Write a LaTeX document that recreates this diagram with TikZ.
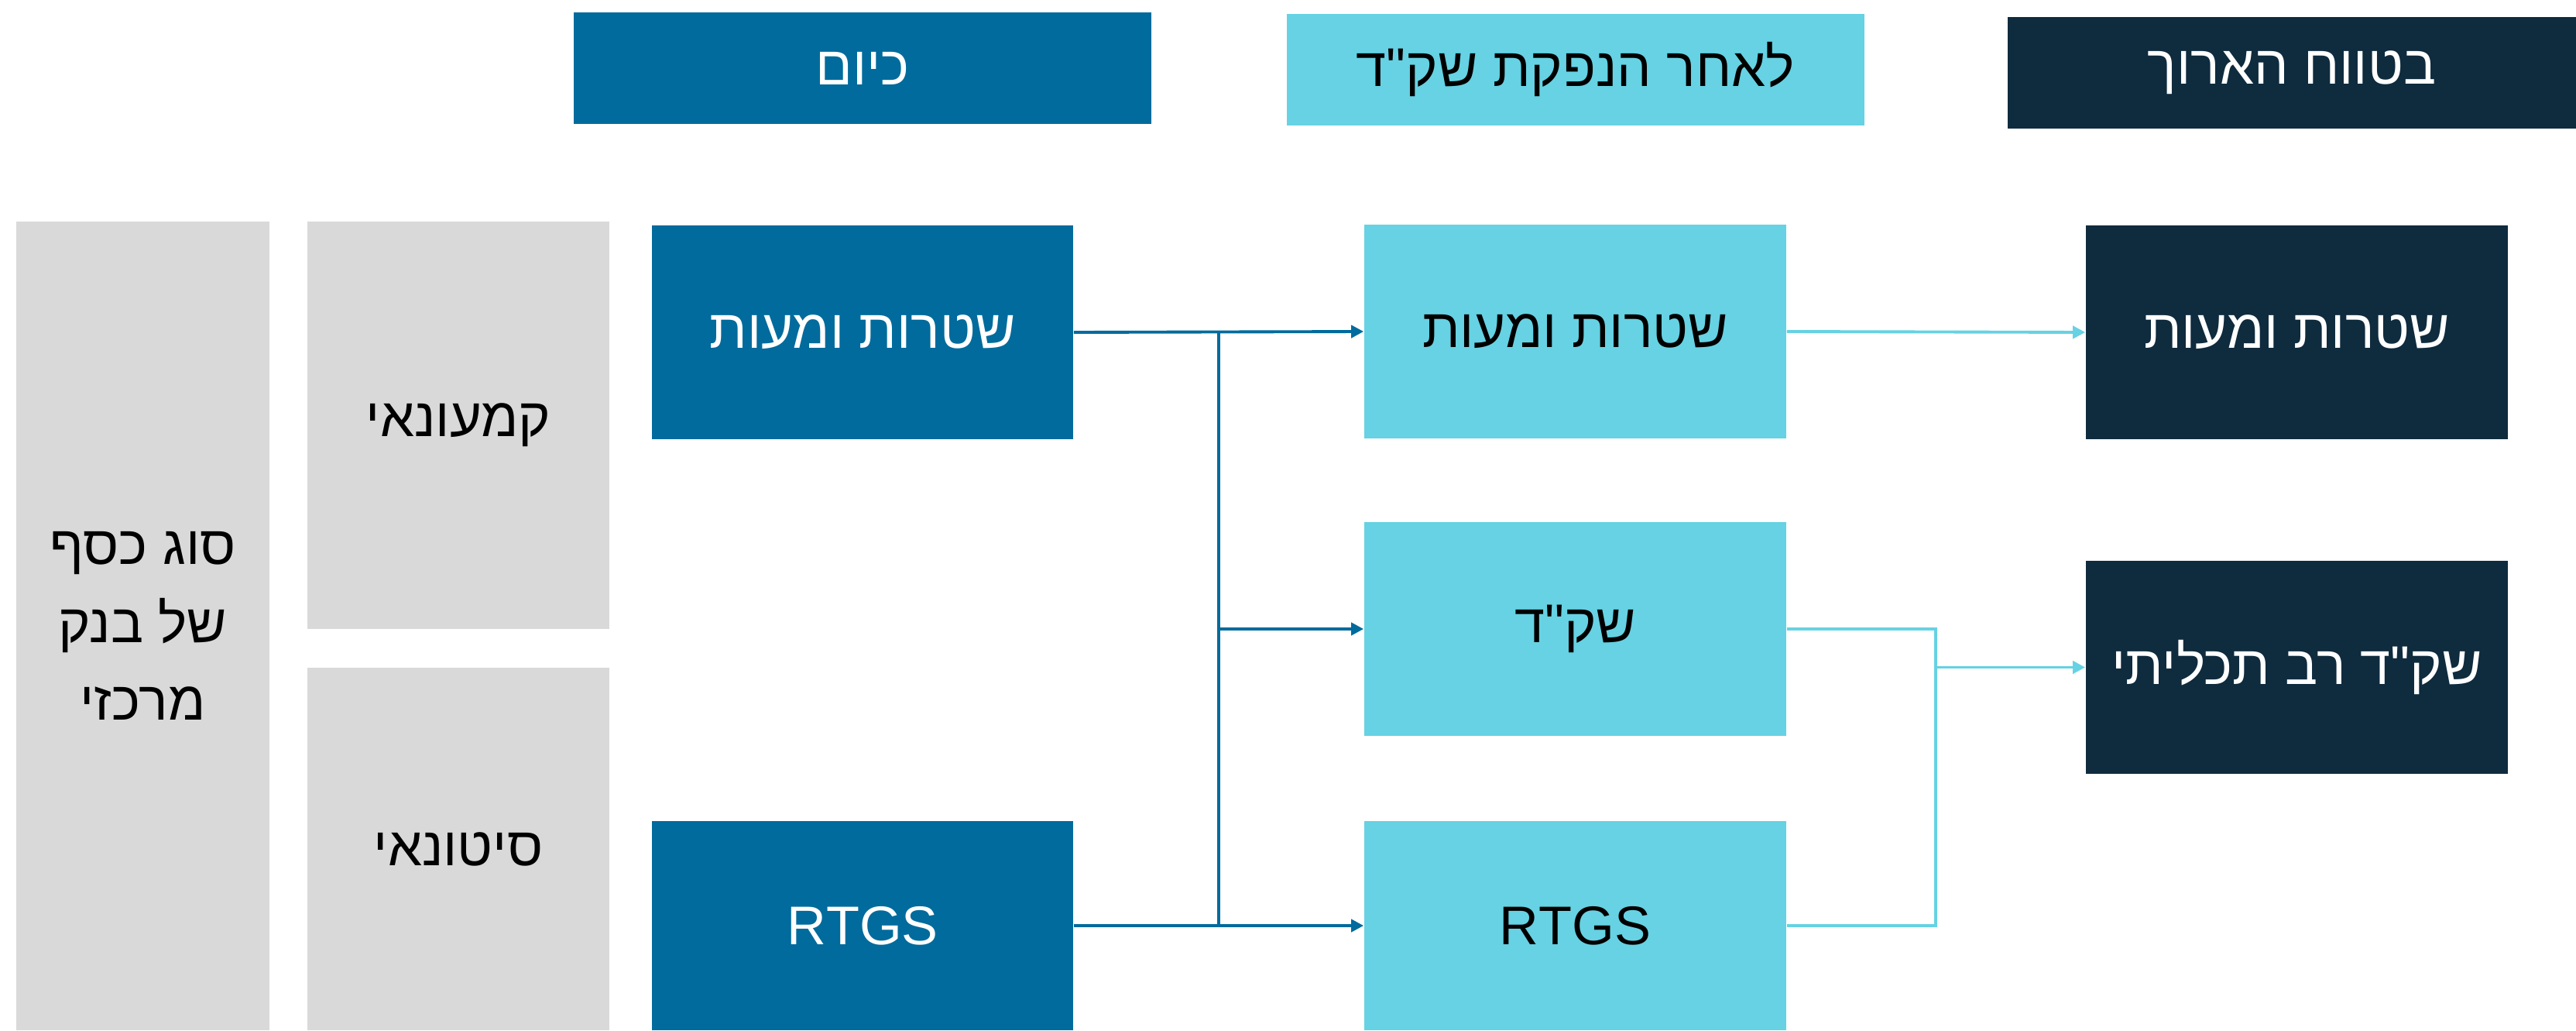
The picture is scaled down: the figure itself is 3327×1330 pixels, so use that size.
\documentclass[tikz,border=0pt]{standalone}
\usepackage{fontspec}
\usetikzlibrary{arrows.meta}
\newfontfamily\hebfont[Script=Hebrew,Ligatures=TeXOff]{Liberation Sans}
\TeXXeTstate=1
\newcommand\rl[1]{\beginR#1\endR}
\definecolor{nowblue}{HTML}{006B9C}
\definecolor{aftcyan}{HTML}{66D2E3}
\definecolor{lngnavy}{HTML}{0F2B3E}
\definecolor{catgray}{HTML}{D9D9D9}

\begin{document}
\begin{tikzpicture}
      [x=0.01cm,y=-0.01cm
      ,cell/.style={inner sep=0pt,align=center,font=\hebfont\fontsize{20}{28.5}\selectfont}
      ,hdr/.style={cell,minimum height=1.44cm}
      ,gry/.style={cell,fill=catgray,text=black,minimum width=3.9cm}
      ,nowbox/.style={cell,fill=nowblue,text=white,minimum width=5.44cm}
      ,aftbox/.style={cell,fill=aftcyan,text=black,minimum width=5.45cm}
      ,lngbox/.style={cell,fill=lngnavy,text=white,minimum width=5.45cm}
      ,nowlin/.style={draw=nowblue,line width=1.1pt}
      ,aftlin/.style={draw=aftcyan,line width=1.1pt}
      ,arr/.style={-{Triangle[length=0.16cm,width=0.16cm]}}
      ]
        \useasboundingbox (0,0) rectangle (3327,1330);
        % column headers
        \node[hdr,fill=nowblue,text=white,minimum width=7.46cm] (hNow) at (1114,88) {\rl{כיום}};
        \node[hdr,fill=aftcyan,text=black,minimum width=7.46cm] (hAft) at (2035,90) {\rl{לאחר הנפקת שק"ד}};
        \node[hdr,fill=lngnavy,text=white,minimum width=7.34cm] (hLng) at (2960,94) {\rl{בטווח הארוך}};
        % row labels
        \node[gry,minimum width=3.27cm,minimum height=10.44cm] (kind) at (184.5,808)
          {\rl{סוג כסף}\\\rl{של בנק}\\\rl{מרכזי}};
        \node[gry,minimum height=5.26cm] (retail) at (592,549) {\rl{קמעונאי}};
        \node[gry,minimum height=4.68cm] (whsale) at (592,1096) {\rl{סיטונאי}};
        % today
        \node[nowbox,minimum height=2.76cm] (nCash) at (1114,429) {\rl{שטרות ומעות}};
        \node[nowbox,minimum height=2.70cm] (nRtgs) at (1114,1195) {RTGS};
        % after issuing
        \node[aftbox,minimum height=2.75cm] (aCash) at (2034.5,428) {\rl{שטרות ומעות}};
        \node[aftbox,minimum height=2.76cm] (aCbdc) at (2034.5,812) {\rl{שק"ד}};
        \node[aftbox,minimum height=2.70cm] (aRtgs) at (2034.5,1195) {RTGS};
        % long term
        \node[lngbox,minimum height=2.76cm] (lCash) at (2966.5,429) {\rl{שטרות ומעות}};
        \node[lngbox,minimum height=2.75cm] (lCbdc) at (2966.5,861.5) {\rl{שק"ד רב תכליתי}};
        \coordinate (jA) at (1574,0);
        \coordinate (jB) at (2500,0);
        \draw[nowlin,arr] (nCash.east) -- (aCash.west);
        \draw[nowlin,arr] (nRtgs.east) -- (aRtgs.west);
        \draw[nowlin] (jA |- nCash.east) -- (jA |- nRtgs.east);
        \draw[nowlin,arr] (jA |- aCbdc.west) -- (aCbdc.west);
        \draw[aftlin,arr] (aCash.east) -- (lCash.west);
        \draw[aftlin] (aCbdc.east) -- (jB |- aCbdc.east) -- (jB |- aRtgs.east) -- (aRtgs.east);
        \draw[aftlin,arr] (jB |- lCbdc.west) -- (lCbdc.west);
      \end{tikzpicture}
\end{document}
